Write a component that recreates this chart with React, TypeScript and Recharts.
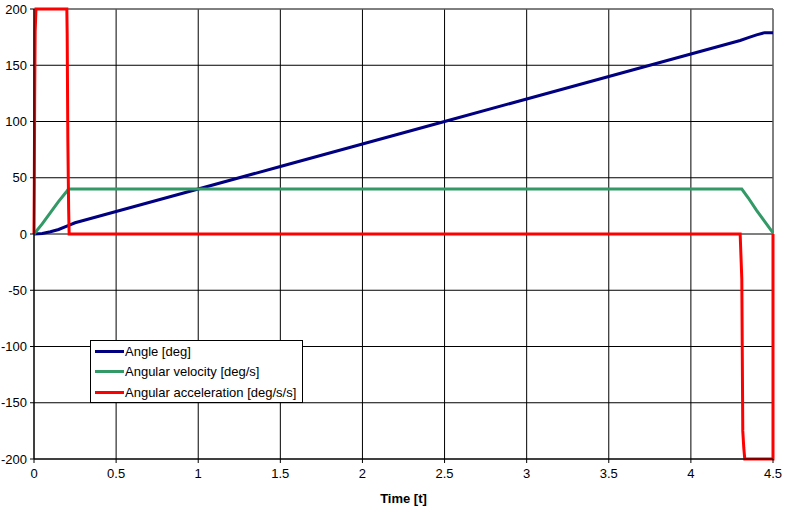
import {
  LineChart,
  Line,
  XAxis,
  YAxis,
  CartesianGrid,
  ReferenceLine,
} from 'recharts';

// Angle [deg]
const angleData = [
  { t: 0, v: 0 },
  { t: 0.05, v: 0.5 },
  { t: 0.1, v: 2 },
  { t: 0.15, v: 4 },
  { t: 0.2, v: 7 },
  { t: 0.25, v: 10 },
  { t: 0.3, v: 12 },
  { t: 0.5, v: 20 },
  { t: 1.0, v: 40 },
  { t: 1.5, v: 60 },
  { t: 2.0, v: 80 },
  { t: 2.5, v: 100 },
  { t: 3.0, v: 120 },
  { t: 3.5, v: 140 },
  { t: 4.0, v: 160 },
  { t: 4.3, v: 172 },
  { t: 4.35, v: 174.5 },
  { t: 4.4, v: 177 },
  { t: 4.45, v: 179 },
  { t: 4.5, v: 179 },
];

// Angular velocity [deg/s]
const velocityData = [
  { t: 0, v: 0 },
  { t: 0.05, v: 9 },
  { t: 0.1, v: 19 },
  { t: 0.15, v: 29 },
  { t: 0.2, v: 38 },
  { t: 0.21, v: 40 },
  { t: 4.31, v: 40 },
  { t: 4.35, v: 32 },
  { t: 4.4, v: 21 },
  { t: 4.45, v: 11 },
  { t: 4.5, v: 1 },
];

// Angular acceleration [deg/s/s]
const accelData = [
  { t: 0, v: 0 },
  { t: 0.002, v: 45 },
  { t: 0.004, v: 120 },
  { t: 0.007, v: 180 },
  { t: 0.012, v: 200 },
  { t: 0.2, v: 200 },
  { t: 0.202, v: 178 },
  { t: 0.206, v: 85 },
  { t: 0.211, v: 22 },
  { t: 0.214, v: 0 },
  { t: 4.3, v: 0 },
  { t: 4.31, v: -40 },
  { t: 4.316, v: -175 },
  { t: 4.322, v: -190 },
  { t: 4.328, v: -200 },
  { t: 4.5, v: -200 },
  { t: 4.5, v: 0 },
];

const xTicks = [0, 0.5, 1, 1.5, 2, 2.5, 3, 3.5, 4, 4.5];
const yTicks = [-200, -150, -100, -50, 0, 50, 100, 150, 200];

const seriesInfo = [
  { name: 'Angle [deg]', color: '#000080' },
  { name: 'Angular velocity [deg/s]', color: '#339966' },
  { name: 'Angular acceleration [deg/s/s]', color: '#FF0000' },
];

const FONT = '"Liberation Sans Narrow", "Liberation Sans", Arial, sans-serif';

function LegendBox() {
  return (
    <div
      style={{
        position: 'absolute',
        left: 90,
        top: 340,
        width: 213,
        height: 63,
        border: '1px solid #000',
        background: '#fff',
        fontFamily: '"Liberation Sans", Arial, sans-serif',
        fontSize: 13,
        color: '#000',
        boxSizing: 'border-box',
      }}
    >
      {seriesInfo.map((s) => (
        <div
          key={s.name}
          style={{ display: 'flex', alignItems: 'center', height: 20.5 }}
        >
          <span
            style={{
              display: 'inline-block',
              width: 29,
              height: 3,
              background: s.color,
              marginLeft: 4,
              marginRight: 1,
            }}
          />
          <span>{s.name}</span>
        </div>
      ))}
    </div>
  );
}

export default function App() {
  return (
    <div
      style={{
        position: 'absolute',
        left: 0,
        top: 0,
        width: 785,
        height: 517,
        background: '#fff',
      }}
    >
      <LineChart
        width={785}
        height={517}
        margin={{ top: 9, right: 12, bottom: 8, left: 0 }}
      >
        <CartesianGrid stroke="#000" strokeWidth={1} />
        <XAxis
          type="number"
          dataKey="t"
          domain={[0, 4.5]}
          ticks={xTicks}
          height={50}
          stroke="#000"
          tickSize={4}
          tickMargin={6}
          tick={{ fontSize: 13, fill: '#000', fontFamily: FONT }}
          label={{
            value: 'Time [t]',
            position: 'insideBottom',
            offset: 6,
            fontSize: 13,
            fontWeight: 'bold',
            fill: '#000',
            fontFamily: FONT,
          }}
        />
        <YAxis
          type="number"
          dataKey="v"
          domain={[-200, 200]}
          ticks={yTicks}
          width={34}
          stroke="#000"
          tickSize={4}
          tickMargin={3}
          tick={{ fontSize: 13, fill: '#000', fontFamily: FONT }}
        />
        <ReferenceLine y={200} stroke="#808080" />
        <ReferenceLine x={4.5} stroke="#808080" />
        <Line
          data={angleData}
          dataKey="v"
          name={seriesInfo[0].name}
          stroke={seriesInfo[0].color}
          strokeWidth={3}
          dot={false}
          type="linear"
          isAnimationActive={false}
        />
        <Line
          data={velocityData}
          dataKey="v"
          name={seriesInfo[1].name}
          stroke={seriesInfo[1].color}
          strokeWidth={3}
          dot={false}
          type="linear"
          isAnimationActive={false}
        />
        <Line
          data={accelData}
          dataKey="v"
          name={seriesInfo[2].name}
          stroke={seriesInfo[2].color}
          strokeWidth={3}
          dot={false}
          type="linear"
          isAnimationActive={false}
        />
      </LineChart>
      <LegendBox />
    </div>
  );
}
